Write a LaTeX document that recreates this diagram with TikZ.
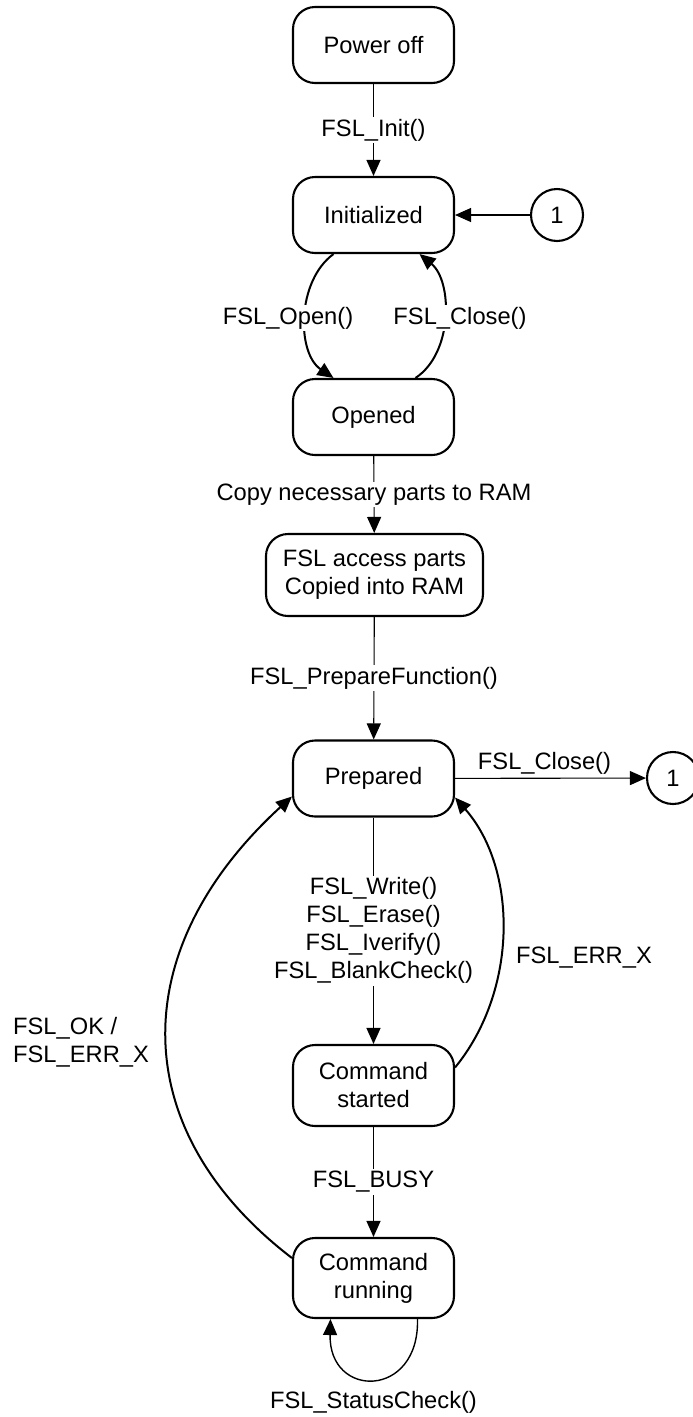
\documentclass[tikz,border=0pt]{standalone}
\usepackage{fontspec}
\setmainfont{Liberation Sans}
\usetikzlibrary{arrows.meta}
\begin{document}
\begin{tikzpicture}[x=1pt,y=-1pt,
  txt/.style={font=\fontsize{23.7}{28}\selectfont},
  stbox/.style={txt, draw, line width=2.1pt, rounded corners=22pt, minimum width=161pt, minimum height=76pt, align=center, inner sep=0pt},
  connector/.style={txt, draw, circle, line width=2.1pt, minimum size=52pt, inner sep=0pt},
  thinarrow/.style={line width=1.1pt, -{Triangle[length=16pt,width=14pt]}},
  curvearrow/.style={line width=2pt, -{Triangle[length=16pt,width=14pt]}},
  lbl/.style={txt, fill=white, inner sep=2pt, align=center},
  freelbl/.style={txt, inner sep=0pt}
]
\useasboundingbox (0,0) rectangle (693,1417);

\node[stbox] (poweroff) at (373.5,45) {Power off};
\node[stbox] (init) at (373.5,215) {Initialized};
\node[stbox] (opened) at (373.5,417) {Opened};
\node[stbox, minimum width=217pt, minimum height=82pt] (access) at (374.5,575) {FSL access parts\\Copied into RAM};
\node[stbox] (prep) at (373.5,778.5) {Prepared};
\node[stbox, minimum height=81pt] (cstart) at (373.5,1085.5) {Command\\started};
\node[stbox, minimum height=80pt] (crun) at (373.5,1278) {Command\\running};
\node[connector] (c1) at (557,215) {1};
\node[connector] (c2) at (673,778) {1};

\draw[thinarrow] (poweroff) -- (init) node[midway, lbl] {FSL\_Init()};
\draw[thinarrow] (c1) -- (init);
\draw[curvearrow] ([xshift=-40pt]init.south) .. controls +(-37,27) and +(-37,-25) .. ([xshift=-40pt]opened.north);
\node[lbl] (lopen) at (288,318) {FSL\_Open()};
\draw[curvearrow] ([xshift=42pt]opened.north) .. controls +(38,-25) and +(33,27) .. ([xshift=46pt]init.south);
\node[lbl] (lclose) at (460,318) {FSL\_Close()};
\draw[thinarrow] (opened) -- (access) node[midway, lbl] {Copy necessary parts to RAM};
\draw[thinarrow] (access) -- (prep) node[midway, lbl] {FSL\_PrepareFunction()};
\draw[thinarrow] (prep) -- (c2) node[midway, above=3pt, freelbl, xshift=-6pt] {FSL\_Close()};
\draw[thinarrow] (prep) -- (cstart) node[midway, lbl] {FSL\_Write()\\FSL\_Erase()\\FSL\_Iverify()\\FSL\_BlankCheck()};
\draw[thinarrow] (cstart) -- (crun) node[midway, lbl] {FSL\_BUSY};
\draw[curvearrow] ([yshift=18pt]cstart.east) .. controls +(63,-77) and +(63,72) .. ([yshift=-19pt]prep.east);
\node[freelbl] (lerr) at (584,958) {FSL\_ERR\_X};
\draw[curvearrow] ([yshift=20pt]crun.west) .. controls +(-167,-128) and +(-167,153) .. ([yshift=-18pt]prep.west);
\node[freelbl, anchor=west, align=left] (lok) at (13,1042) {FSL\_OK /\\FSL\_ERR\_X};
\draw[curvearrow, line width=1.4pt] ([xshift=44pt]crun.south) .. controls +(2,80) and +(-2,80) .. ([xshift=-43pt]crun.south);
\node[freelbl] (lstat) at (373.5,1402) {FSL\_StatusCheck()};
\end{tikzpicture}
\end{document}
